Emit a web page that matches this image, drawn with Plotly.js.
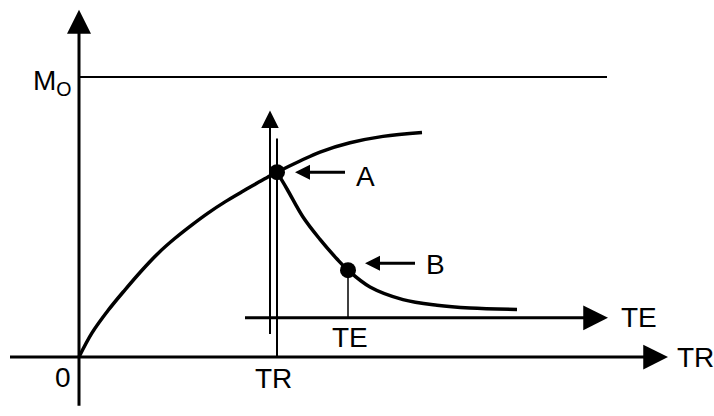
<!DOCTYPE html>
<html>
<head>
<meta charset="utf-8">
<script src="https://cdn.plot.ly/plotly-3.0.1.min.js"></script>
<style>
  html, body { margin: 0; padding: 0; background: #fff; }
  #chart { width: 714px; height: 416px; }
</style>
</head>
<body>
<div id="chart"></div>
<script>
// time axis in arbitrary units (origin 0), magnetization in % of Mo
var recoveryT = [0, 13, 29, 46, 63, 79, 96, 113, 129, 146, 163, 179, 189, 198, 221, 241, 271, 304, 343];
var recoveryM = [0, 8.6, 16.6, 24, 31, 37, 42.4, 47.2, 51.4, 55.4, 59, 62.3, 64.3, 66, 70, 73.2, 76.5, 78.8, 80.2];

var decayT = [198, 208, 224, 241, 258, 269, 291, 324, 358, 391, 438];
var decayM = [66, 60, 50, 42, 35, 31, 25, 20.5, 18.5, 17.5, 17];

var pointNames = ['A', 'B'];
var pointT = [198, 269];
var pointM = [66, 31];

var M0 = 100;
var TR = 198;
var TE = 269;
var teLevel = 14;

var black = '#000';
var font = { family: 'Liberation Sans, Arial, sans-serif', size: 28, color: black };

var traces = [
  { x: recoveryT, y: recoveryM, mode: 'lines', line: { color: black, width: 3.5, shape: 'spline' } },
  { x: decayT, y: decayM, mode: 'lines', line: { color: black, width: 3.5, shape: 'spline' } },
  { x: [0, 528], y: [M0, M0], mode: 'lines', line: { color: black, width: 2 } },
  { x: [TR, TR], y: [0, 78], mode: 'lines', line: { color: black, width: 2 } },
  { x: [TE, TE], y: [pointM[1], teLevel], mode: 'lines', line: { color: black, width: 1.5 } },
  { x: pointT, y: pointM, mode: 'markers', marker: { color: black, size: 16 } }
];

function arrow(x, y, ax, ay, w, size) {
  return {
    x: x, y: y, ax: ax, ay: ay, xref: 'x', yref: 'y', axref: 'x', ayref: 'y',
    text: ' ', showarrow: true, arrowhead: 2, arrowwidth: w, arrowsize: size, arrowcolor: black
  };
}

function label(text, x, y, anchor) {
  return { x: x, y: y, xref: 'x', yref: 'y', text: text, showarrow: false,
    xanchor: anchor || 'center', yanchor: 'middle', font: font };
}

var annotations = [
  arrow(0, 124, 0, -21, 3, 1.6),              // M axis
  arrow(589, 0, -72, 0, 3, 1.65),             // TR axis
  arrow(529, teLevel, 163, teLevel, 3, 1.65), // TE axis
  arrow(191, 88, 191, 4.6, 2, 1.75),          // inner arrow
  arrow(pointT[0] + 18, pointM[0], 269, pointM[0], 3, 1),
  arrow(pointT[1] + 17, pointM[1] + 2.5, 339, pointM[1] + 2.5, 3, 1),
  label('M<sub>O</sub>', -5, 98, 'right'),
  label('0', -16, -7.2),
  label('TR', TR - 4, -7.8),
  label('TR', 596, 0, 'left'),
  label('TE', 540, teLevel, 'left'),
  label('TE', TE + 2, 7),
  label(pointNames[0], 286, 64.5),
  label(pointNames[1], 356, 33)
];

var layout = {
  width: 714,
  height: 416,
  margin: { l: 0, r: 0, t: 0, b: 0 },
  showlegend: false,
  paper_bgcolor: '#fff',
  plot_bgcolor: '#fff',
  xaxis: { range: [-79, 635], visible: false, fixedrange: true },
  yaxis: { range: [-21.07, 127.5], visible: false, fixedrange: true },
  annotations: annotations
};

Plotly.newPlot('chart', traces, layout, { displayModeBar: false, staticPlot: true });
</script>
</body>
</html>
